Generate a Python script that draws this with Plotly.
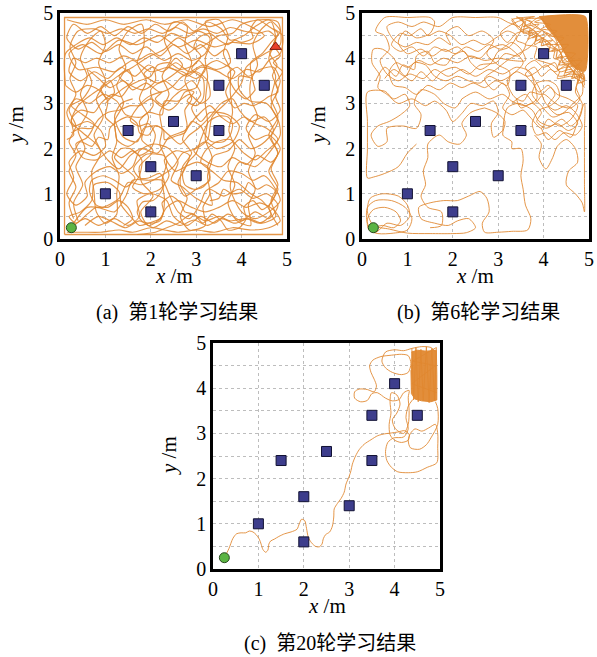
import plotly.graph_objects as go

# ---------------- data ----------------
OBST_X = [1.0, 2.0, 2.0, 1.5, 2.5, 3.0, 3.5, 3.5, 4.0, 4.5]
OBST_Y = [1.0, 0.6, 1.6, 2.4, 2.6, 1.4, 2.4, 3.4, 4.1, 3.4]
START = (0.25, 0.25)
GOAL = (4.75, 4.25)
TICKS = [0, 1, 2, 3, 4, 5]
CAPTIONS = ["(a)\u2002第1轮学习结果", "(b)\u2002第6轮学习结果", "(c)\u2002第20轮学习结果"]

# ----- panel (a): episode 1, trajectory covers whole field -----
A_WALL = [(0.1, 0.1), (4.9, 0.1), (4.9, 4.9), (0.1, 4.9), (0.1, 0.1)]
A1 = [(0.25,0.25),(0.55,0.45),(0.85,0.3),(1.2,0.45),(1.5,0.3),(1.75,0.5),(1.7,0.85),(2.0,1.0),(2.35,0.85),(2.5,0.5),(2.8,0.3),(3.1,0.5),(3.4,0.35),(3.7,0.55),(4.0,0.4),(4.3,0.6),(4.6,0.45),(4.8,0.75),(4.55,1.0),(4.25,0.9),(3.95,1.1),(3.6,0.95),(3.3,1.1),(3.35,0.75),(3.0,0.9),(2.7,1.15),(2.45,1.3),(2.6,1.7),(2.4,2.0),(2.05,2.1),(1.75,1.95),(1.6,1.6),(1.35,1.45),(1.1,1.6),(0.8,1.5),(0.55,1.25),(0.6,0.95),(0.35,0.75),(0.15,1.0),(0.3,1.35),(0.2,1.7),(0.45,1.95),(0.75,1.85),(1.0,2.05),(0.9,2.4),(0.6,2.6),(0.3,2.5),(0.15,2.8),(0.35,3.1),(0.65,3.0),(0.95,3.2),(1.25,3.05),(1.45,2.75),(1.8,2.7),(2.05,2.95),(2.0,3.3),(2.3,3.5),(2.6,3.3),(2.9,3.5),(3.1,3.2),(2.9,2.9),(3.1,2.6),(3.3,2.8),(3.7,2.75),(3.95,2.5),(3.8,2.15),(3.45,2.0),(3.2,2.15),(2.95,1.95),(3.25,1.7),(3.55,1.6),(3.8,1.8),(4.1,1.65),(4.35,1.85),(4.65,1.7),(4.85,2.0),(4.6,2.3),(4.3,2.2),(4.1,2.45),(4.3,2.75),(4.6,2.6),(4.85,2.85),(4.75,3.15),(4.85,3.5),(4.7,3.8),(4.4,3.75),(4.15,3.6),(3.9,3.8),(3.7,3.65),(3.85,3.3),(4.1,3.1),(4.3,3.3)]
A2 = [(4.3,3.3),(4.2,3.9),(4.45,4.1),(4.65,4.35),(4.85,4.6),(4.6,4.85),(4.3,4.7),(4.05,4.5),(3.75,4.4),(3.55,4.65),(3.25,4.8),(2.95,4.6),(2.7,4.8),(2.4,4.6),(2.1,4.75),(1.8,4.55),(1.5,4.7),(1.2,4.5),(0.9,4.7),(0.6,4.55),(0.3,4.75),(0.15,4.45),(0.4,4.2),(0.7,4.35),(1.0,4.15),(1.3,4.3),(1.6,4.1),(1.9,4.25),(2.2,4.05),(2.5,4.3),(2.8,4.1),(3.1,4.3),(3.4,4.05),(3.65,4.2),(3.75,3.9),(3.45,3.75),(3.15,3.85),(2.85,3.7),(2.55,3.9),(2.25,3.7),(1.95,3.85),(1.65,3.6),(1.35,3.8),(1.05,3.55),(0.75,3.7),(0.45,3.5),(0.2,3.7),(0.3,4.0),(0.55,3.9),(0.8,4.0),(1.1,3.9),(1.4,4.05),(1.7,3.95),(2.0,4.1),(2.3,3.95),(2.6,4.1),(2.9,3.95),(3.2,4.1),(3.3,4.45),(3.05,4.6),(2.75,4.45),(2.45,4.55),(2.15,4.35),(1.85,4.45),(1.55,4.3),(1.25,4.45),(0.95,4.3),(0.65,4.45),(0.35,4.3),(0.12,4.1),(0.12,3.4)]
A3 = [(0.12,3.4),(0.35,3.25),(0.6,3.4),(0.85,3.3),(1.05,3.05),(1.0,2.7),(1.2,2.5),(1.25,2.2),(1.5,2.05),(1.8,2.3),(1.75,2.6),(1.95,2.8),(2.25,2.75),(2.3,3.05),(2.6,3.05),(2.85,3.2),(3.1,3.0),(3.3,3.15),(3.25,3.5),(3.0,3.7),(2.7,3.6),(2.45,3.35),(2.2,3.25),(1.9,3.45),(1.6,3.3),(1.4,3.5),(1.1,3.35),(0.85,3.55),(0.6,3.75),(0.7,3.45),(0.5,3.1),(0.25,2.95),(0.5,2.75),(0.75,2.55),(0.6,2.25),(0.35,2.1),(0.5,1.8),(0.8,1.75),(1.1,1.95),(1.35,1.8),(1.6,1.95),(1.8,1.75),(1.75,1.4),(1.6,1.15),(1.85,1.0),(2.2,1.1),(2.4,1.4),(2.3,1.75),(2.55,1.95),(2.85,1.85),(2.75,1.55),(2.6,1.25),(2.75,0.95),(3.0,1.1),(3.3,1.3),(3.25,1.6),(3.4,1.85),(3.7,1.95),(3.95,2.2),(4.2,2.0),(4.45,2.1),(4.7,2.4),(4.5,2.7),(4.2,2.6),(3.95,2.85),(3.8,3.1),(3.55,3.0),(3.3,2.7),(3.05,2.45),(2.85,2.3),(2.65,2.1),(2.4,2.3),(2.15,2.5),(1.85,2.45),(1.7,2.15),(1.4,2.25),(1.2,2.7),(1.35,3.0),(1.6,3.1)]
A4 = [(0.15,0.15),(0.5,0.15),(0.9,0.15),(1.3,0.2),(1.6,0.15),(2.0,0.25),(2.3,0.2),(2.6,0.15),(3.0,0.2),(3.4,0.15),(3.8,0.25),(4.2,0.2),(4.6,0.25),(4.85,0.4),(4.7,0.65),(4.4,0.8),(4.1,0.7),(3.8,0.85),(3.5,0.7),(3.2,0.6),(2.9,0.7),(2.6,0.85),(2.35,0.7),(2.2,0.45),(1.95,0.35),(1.75,0.3),(1.55,0.5),(1.35,0.75),(1.3,1.05),(1.05,1.25),(0.75,1.2),(0.7,0.85),(0.45,0.6),(0.2,0.5),(0.35,0.35),(0.6,0.55),(0.8,0.7),(1.2,0.6),(1.45,0.95),(1.6,1.3),(1.95,1.3),(2.25,1.3),(2.4,1.0),(2.6,0.6),(2.85,0.45),(3.1,0.8),(3.2,1.05),(3.5,1.25),(3.7,1.5),(4.0,1.45),(4.25,1.3),(4.5,1.4),(4.75,1.1),(4.85,0.85),(4.6,0.6),(4.3,0.45),(4.0,0.6),(3.75,1.15),(3.95,1.7),(4.3,1.6),(4.6,1.9),(4.85,2.3),(4.8,2.65),(4.55,3.0),(4.2,3.05),(3.95,3.3),(3.95,3.6),(4.25,3.55)]
A5 = [(0.4,0.4),(0.3,0.8),(0.5,1.2),(0.35,1.6),(0.55,2.0),(0.4,2.4),(0.6,2.8),(0.45,3.2),(0.6,3.6),(0.45,4.0),(0.65,4.4),(0.9,4.6),(1.0,4.3),(0.85,3.9),(1.0,3.5),(0.8,3.1),(0.95,2.7),(0.75,2.3),(0.9,1.9),(0.7,1.5),(0.75,1.05),(0.8,0.6),(1.0,0.35),(1.25,0.55),(1.25,1.0),(1.3,1.4),(1.15,1.8),(1.25,2.15),(1.2,2.6),(1.4,3.0),(1.25,3.4),(1.45,3.8),(1.3,4.2),(1.5,4.6),(1.8,4.75),(1.85,4.3),(1.7,3.9),(1.9,3.5),(1.75,3.1),(1.95,2.7),(1.8,2.2),(2.05,1.95),(1.75,1.6),(1.8,1.25),(2.05,0.95),(1.78,0.6),(1.95,0.3),(2.25,0.5),(2.3,0.9),(2.25,1.3),(2.35,1.7),(2.2,2.1),(2.25,2.4),(2.2,2.8),(2.4,3.2),(2.25,3.6),(2.45,4.0),(2.3,4.4),(2.5,4.8),(2.8,4.7),(2.75,4.3),(2.9,3.9),(2.75,3.5),(2.9,3.1),(2.75,2.85),(2.8,2.5),(2.7,2.2),(2.9,1.9),(2.7,1.6),(2.65,1.2),(2.8,0.9),(2.65,0.5),(2.85,0.2),(3.2,0.3),(3.15,0.7),(3.3,1.0),(3.25,1.4),(3.35,1.8),(3.2,2.2),(3.25,2.6),(3.2,3.0),(3.25,3.6),(3.2,4.0),(3.35,4.4),(3.2,4.8),(3.5,4.85),(3.7,4.5),(3.6,4.1),(3.75,3.75),(3.75,3.25),(3.8,2.8),(3.72,2.4),(3.85,2.0),(3.7,1.6),(3.85,1.2),(3.7,0.8),(3.9,0.4),(4.2,0.3),(4.15,0.75),(4.3,1.1),(4.15,1.5),(4.3,1.9),(4.15,2.3),(4.35,2.7),(4.2,3.1),(4.2,3.5),(4.35,3.85),(4.25,4.3),(4.4,4.6),(4.65,4.8),(4.75,4.4),(4.6,4.0),(4.75,3.6),(4.65,3.1),(4.8,2.7),(4.6,2.3),(4.8,1.9),(4.6,1.5),(4.8,1.1),(4.6,0.7),(4.8,0.3)]
A6 = [(0.15,4.85),(0.6,4.75),(1.0,4.85),(1.4,4.75),(1.9,4.85),(2.3,4.75),(2.8,4.85),(3.3,4.7),(3.8,4.85),(4.2,4.7),(4.5,4.5),(4.2,4.32),(3.8,4.35),(3.4,4.25),(3.0,4.4),(2.6,4.25),(2.2,4.5),(1.7,4.3),(1.3,4.4),(0.9,4.1),(0.5,4.3),(0.2,4.1),(0.4,3.75),(0.8,3.8),(1.2,3.7),(1.6,3.95),(2.0,3.7),(2.4,3.8),(2.8,3.6),(3.1,3.8),(3.45,3.72),(3.8,3.55),(4.1,3.75),(4.4,3.7),(4.6,3.95),(4.85,4.1),(4.9,4.5),(4.7,4.65)]
A7 = [(0.2,0.2),(0.6,0.7),(0.95,0.7),(1.3,0.9),(1.5,1.25),(1.8,1.2),(2.2,1.38),(2.5,1.6),(2.7,1.9),(3.0,2.0),(3.25,2.2),(3.35,2.7),(3.7,3.05),(4.0,3.45),(4.1,3.8),(4.35,4.0),(4.6,4.15),(4.85,4.3),(4.8,4.8),(4.4,4.85),(4.0,4.75),(3.8,4.55),(3.5,4.5),(3.0,4.2),(2.6,4.45),(2.3,4.2),(1.9,4.0),(1.6,3.8),(1.3,3.62),(1.0,3.4),(0.7,3.2),(0.4,2.95),(0.25,2.6),(0.5,2.35),(0.8,2.1),(1.05,1.75),(1.3,1.55),(1.55,1.85),(1.8,2.0),(2.15,1.9),(2.4,2.25),(2.75,2.4),(3.0,2.7),(3.3,2.95),(3.55,2.7),(3.8,2.55),(4.05,2.7),(4.3,2.55),(4.55,2.45),(4.8,2.2),(4.55,1.95),(4.3,1.75),(4.05,1.9),(3.75,2.2),(3.45,2.15),(3.2,1.95),(3.1,1.7),(3.35,1.5),(3.6,1.3),(3.9,1.25),(4.2,1.0),(4.45,0.85),(4.65,0.55),(4.4,0.35),(4.1,0.45),(3.75,0.4),(3.5,0.5),(3.2,0.4),(2.9,0.55),(2.6,0.35),(2.35,0.25),(2.1,0.15),(1.7,0.1)]
A8 = [(0.3,1.9),(0.45,2.15),(0.7,2.05),(0.85,2.25),(1.05,2.2),(1.1,2.45),(1.3,2.62),(1.5,2.7),(1.7,2.55),(1.75,2.35),(1.95,2.3),(2.1,2.5),(2.28,2.42),(2.3,2.2),(2.55,2.28),(2.75,2.35),(2.9,2.6),(3.1,2.5),(3.2,2.3),(3.35,2.15),(3.6,2.15),(3.75,2.3),(3.8,2.55),(3.7,2.7),(3.5,2.72),(3.28,2.6),(3.1,2.2),(3.0,1.9),(2.82,1.7),(2.7,1.45),(2.75,1.2),(2.95,1.1),(3.15,1.15),(3.3,1.35),(3.25,1.6),(3.02,1.7),(2.8,1.62),(2.55,1.5),(2.4,1.65),(2.28,1.85),(2.1,1.88),(1.92,1.88),(1.75,1.75),(1.62,1.55),(1.75,1.35),(1.95,1.35),(2.2,1.45),(2.3,1.25),(2.2,1.0),(2.05,0.85),(1.82,0.82),(1.7,0.6),(1.8,0.4),(2.0,0.35),(2.2,0.4),(2.28,0.62),(2.25,0.8),(2.45,0.95),(2.65,0.8),(2.75,0.6),(2.95,0.55),(3.15,0.35),(3.35,0.55),(3.55,0.4),(3.7,0.2),(3.95,0.25),(4.1,0.45),(4.05,0.7),(4.25,0.85),(4.45,0.65),(4.65,0.8),(4.75,1.05),(4.55,1.2),(4.35,1.1),(4.15,1.25),(4.05,1.05),(3.8,1.0),(3.6,1.1),(3.5,0.9),(3.3,0.85)]
A9 = [(0.15,2.2),(0.3,2.3),(0.25,2.65),(0.45,2.85),(0.75,2.8),(0.9,3.0),(1.15,3.2),(1.35,3.15),(1.55,3.4),(1.75,3.5),(2.0,3.6),(2.15,3.85),(2.4,3.9),(2.65,3.75),(2.95,3.85),(3.1,4.05),(2.95,4.25),(3.05,4.45),(3.3,4.55),(3.5,4.4),(3.7,4.3),(3.85,4.4),(4.0,4.35),(4.25,4.45),(4.2,4.65),(4.35,4.85),(4.6,4.7),(4.8,4.55),(4.7,4.3),(4.85,4.05),(4.7,3.9),(4.9,3.7),(4.75,3.45),(4.8,3.25),(4.6,3.15),(4.45,3.05),(4.25,2.95),(4.05,3.0),(3.85,2.9),(3.65,3.25),(3.75,3.5),(3.85,3.7),(3.65,3.85),(3.45,3.95),(3.25,3.85),(3.1,3.6),(3.0,3.35),(2.75,3.25),(2.6,3.0),(2.4,2.85),(2.2,2.95),(2.0,3.1),(1.75,2.95),(1.55,2.95),(1.3,2.85),(1.05,2.8),(0.85,2.65),(0.7,2.45),(0.45,2.45),(0.25,2.35)]
A10 = [(0.3,0.45),(0.2,0.8),(0.35,1.15),(0.2,1.5),(0.35,1.85),(0.2,2.15),(0.35,2.5),(0.2,2.85),(0.35,3.2),(0.22,3.55),(0.35,3.9),(0.22,4.25),(0.4,4.6),(0.75,4.65),(1.05,4.55),(1.35,4.65),(1.65,4.55),(1.95,4.65),(2.25,4.55),(2.55,4.68),(2.85,4.55),(3.15,4.65),(3.45,4.55),(3.75,4.68),(4.05,4.6),(4.35,4.55),(4.6,4.6),(4.75,4.45),(4.62,4.1),(4.78,3.85),(4.68,3.62),(4.8,3.3),(4.65,2.95),(4.8,2.6),(4.65,2.25),(4.8,1.9),(4.65,1.55),(4.8,1.2),(4.65,0.85),(4.75,0.5),(4.45,0.35),(4.15,0.45),(3.85,0.35),(3.55,0.45),(3.25,0.3),(2.95,0.42),(2.65,0.3),(2.35,0.4),(2.05,0.25),(1.75,0.4),(1.45,0.25),(1.15,0.38),(0.85,0.5),(0.55,0.3)]
A11 = [(1.0,3.0),(1.2,3.25),(1.1,3.5),(0.9,3.35),(1.05,3.1),(1.35,3.3),(1.6,3.5),(1.5,3.75),(1.3,3.6),(1.55,3.4),(1.85,3.3),(2.1,3.5),(2.05,3.8),(1.85,3.65),(2.15,3.45),(2.45,3.6),(2.7,3.85),(2.55,4.0),(2.4,3.8),(2.7,3.7),(3.0,3.55),(3.2,3.75),(3.05,3.95),(2.9,3.75),(3.15,3.55),(3.15,3.1),(3.0,2.95),(2.8,3.05),(2.95,3.25),(2.7,3.3),(2.5,3.15),(2.3,2.95),(2.1,3.1),(2.25,3.25),(1.95,3.15),(1.7,2.9),(1.55,2.62),(1.75,2.5),(1.95,2.55),(2.1,2.3),(2.0,2.0),(1.75,1.85),(1.55,2.0),(1.35,2.0),(1.2,1.8),(1.45,1.55),(1.65,1.35),(1.45,1.15),(1.2,1.3),(0.95,1.4),(0.7,1.3),(0.65,1.05),(0.8,0.75),(1.05,0.7),(1.3,0.85),(1.5,0.7),(1.6,0.45),(1.4,0.3)]

# ----- panel (b): episode 6 -----
B1 = [(0.25,0.25),(0.45,0.3),(0.7,0.25),(0.85,0.4),(0.75,0.6),(0.5,0.7),(0.25,0.65),(0.12,0.45),(0.15,0.2),(0.35,0.12),(0.7,0.13),(1.0,0.2),(1.1,0.45),(0.95,0.7),(0.65,0.85),(0.3,0.85),(0.12,0.7),(0.12,0.35),(0.3,0.15),(0.55,0.35),(0.85,0.3),(1.05,0.5),(1.0,0.75),(0.8,0.95),(0.45,1.0),(0.18,0.9),(0.12,0.6),(0.25,0.3),(0.6,0.22),(1.0,0.13),(1.5,0.12),(2.0,0.12),(2.3,0.14),(2.5,0.25),(2.35,0.45),(2.1,0.4),(1.9,0.3),(1.6,0.35),(1.3,0.45),(1.25,0.7),(1.5,0.8),(1.8,0.85),(2.1,0.85),(2.35,0.95),(2.6,1.05),(2.75,0.9),(2.8,0.6),(2.65,0.35),(2.7,0.15),(3.0,0.15),(3.3,0.17),(3.65,0.2),(3.72,0.45),(3.6,0.75),(3.55,1.1),(3.5,1.4),(3.55,1.75),(3.5,2.0),(3.3,2.0),(3.3,2.15),(3.1,2.3),(3.15,2.6),(2.95,2.8),(2.7,2.9)]
B2 = [(2.7,2.9),(2.4,2.8),(2.2,2.55),(2.3,2.3),(2.15,2.1),(1.9,2.15),(1.7,2.3),(1.45,2.1),(1.45,1.8),(1.35,1.5),(1.4,1.2),(1.3,0.95),(1.45,0.7),(1.75,0.6),(1.75,0.3),(1.5,0.25)]
B3 = [(1.2,2.1),(1.0,1.9),(0.8,1.6),(0.5,1.45),(0.25,1.37),(0.12,1.35),(0.12,2.0),(0.12,2.6),(0.12,3.25),(0.5,3.27),(0.7,3.1),(0.95,3.2),(1.05,2.95),(0.85,2.75),(0.6,2.6),(0.35,2.5),(0.2,2.3),(0.35,2.05),(0.55,2.15),(0.55,2.45),(0.9,2.5),(1.2,2.45),(1.3,2.75),(1.15,3.0),(1.3,3.3),(1.6,3.2),(1.8,3.0),(2.05,2.9),(2.2,3.1)]
B4 = [(3.8,2.3),(3.95,2.1),(3.9,1.8),(4.05,1.55),(4.2,1.8),(4.3,2.05),(4.5,2.2),(4.7,2.0),(4.75,1.7),(4.55,1.5),(4.5,1.2),(4.7,1.0),(4.85,0.8),(4.9,0.6),(4.9,1.2),(4.9,1.8),(4.9,2.4),(4.9,3.0),(4.75,2.6),(4.6,2.25),(4.35,2.4),(4.1,2.2),(3.95,2.45)]
B5 = [(2.2,3.1),(2.5,3.25),(2.8,3.1),(3.1,3.2),(3.3,3.05),(3.6,2.95),(3.85,3.1),(3.8,3.4),(3.7,3.7),(3.4,3.8),(3.1,3.65),(2.8,3.75),(2.5,3.6),(2.2,3.75),(1.9,3.6),(1.6,3.75),(1.35,3.55),(1.05,3.65),(0.8,3.5),(0.55,3.65),(0.4,3.95),(0.6,4.2),(0.5,4.5),(0.3,4.6),(0.5,4.9),(1.0,4.9),(1.5,4.9),(1.6,4.8),(1.5,4.55),(1.2,4.45),(0.95,4.6),(0.8,4.35),(1.0,4.1),(1.3,4.2),(1.55,4.05),(1.8,4.2),(2.05,4.1),(2.3,4.25),(2.55,4.15),(2.8,4.3),(3.05,4.2),(3.3,4.35),(3.5,4.2),(3.6,3.95),(3.3,3.95),(3.0,4.0),(2.7,3.95),(2.4,4.05),(2.1,3.9),(1.8,4.0),(1.5,3.85),(1.25,3.95),(1.0,3.8),(0.75,3.9),(0.6,3.7),(0.7,3.4),(0.95,3.35),(1.2,3.2),(1.45,3.4),(1.7,3.3),(1.95,3.45),(2.2,3.35),(2.45,3.45),(2.7,3.35),(2.95,3.5),(3.2,3.4),(3.25,3.7),(3.0,3.85),(2.75,4.1),(2.9,4.4),(2.65,4.6),(2.35,4.5),(2.1,4.7),(1.85,4.55),(1.95,4.3),(1.7,4.45),(1.45,4.3),(1.2,4.35),(0.95,4.25),(0.7,4.4),(0.55,4.7),(0.8,4.8),(1.1,4.7),(1.35,4.8),(1.7,4.7),(2.0,4.9),(2.5,4.9),(3.0,4.9),(3.2,4.8),(3.5,4.65),(3.4,4.4),(3.6,4.3),(3.45,4.05),(3.15,4.1),(2.95,3.9),(2.6,3.85),(2.35,3.65),(2.05,3.8),(1.75,3.7),(1.55,3.5),(1.3,3.7),(1.1,3.5),(0.85,3.7),(0.7,4.0),(0.45,4.2),(0.25,4.2),(0.22,3.9),(0.4,3.6),(0.35,3.35),(0.55,3.2),(0.8,3.0),(1.1,3.1),(1.4,2.95),(1.6,3.05),(1.85,2.85),(2.0,2.6),(2.2,2.78),(2.4,3.0),(2.65,2.95),(2.9,3.05),(3.0,2.8),(2.85,2.55),(2.9,2.25),(3.1,2.4)]
B6 = [(3.1,2.4),(3.2,2.9),(3.45,3.0),(3.75,2.85),(3.9,2.6),(4.15,2.5),(4.4,2.65),(4.6,2.5),(4.8,2.7),(4.85,3.0),(4.7,3.25),(4.75,3.55),(4.6,3.75),(4.35,3.7),(4.25,3.9),(4.0,3.8),(3.8,3.95),(3.6,3.8),(3.75,3.6),(3.9,3.35),(4.05,3.0),(4.25,2.85),(4.5,2.95),(4.7,2.8),(4.85,2.5),(4.7,2.3),(4.45,2.35),(4.25,2.2),(4.05,2.35),(3.85,2.3),(3.75,2.55),(3.9,2.85),(4.15,2.95),(4.35,3.15),(4.28,3.4),(4.1,3.5),(3.85,3.45),(3.75,3.2),(3.95,2.95),(4.2,2.7),(4.45,2.8),(4.65,3.0),(4.85,3.2),(4.85,3.5),(4.75,3.8),(4.5,3.85),(4.25,3.7),(4.05,3.85),(3.85,3.7),(3.65,3.6),(3.4,3.7),(3.2,3.5),(3.35,3.15),(3.55,3.05),(3.7,3.25),(3.95,3.2),(4.15,3.35),(4.3,3.2),(4.55,3.1),(4.75,2.95),(4.6,2.65),(4.35,2.5),(4.1,2.65),(3.95,2.45),(3.7,2.7),(3.55,2.85),(3.3,2.75),(3.1,2.9),(3.25,3.2),(3.1,3.45),(2.9,3.3),(2.7,3.55),(2.95,3.75),(3.2,3.95),(3.45,4.1),(3.7,4.25),(3.85,4.45),(3.65,4.6),(3.4,4.55),(3.2,4.35),(3.05,4.55),(3.3,4.75),(3.6,4.85),(3.85,4.7),(4.1,4.5),(4.3,4.3),(4.5,4.1),(4.7,3.9),(4.85,3.7),(4.9,3.4)]
B7 = [(0.3,3.5),(0.5,3.8),(0.75,3.6),(0.9,3.85),(1.15,3.75),(1.2,4.05),(1.45,4.15),(1.6,3.9),(1.85,3.85),(2.0,4.05),(2.25,4.15),(2.4,3.9),(2.6,3.75),(2.85,3.9),(3.0,4.15),(3.25,4.25),(3.4,4.5),(3.2,4.6),(2.95,4.45),(2.7,4.3),(2.45,4.4),(2.2,4.3),(1.95,4.5),(1.7,4.6),(1.45,4.5),(1.3,4.65),(1.05,4.5),(0.85,4.55),(0.65,4.3),(0.85,4.15),(1.1,4.25),(1.35,4.05),(1.6,4.25),(1.85,4.15),(2.1,4.25),(2.35,4.05),(2.6,4.0),(2.8,4.2),(3.1,4.3),(3.35,4.15),(3.55,3.9),(3.28,3.62),(3.05,3.5),(2.8,3.6),(2.6,3.45),(2.35,3.5),(2.1,3.6),(1.85,3.5),(1.6,3.6),(1.4,3.85),(1.15,3.9),(0.95,3.6),(0.7,3.75),(0.5,3.55)]
B8 = [(3.3,3.0),(3.6,3.2),(3.8,3.0),(4.0,3.2),(4.2,3.05),(4.35,2.95),(4.6,2.9),(4.8,3.1),(4.72,3.35),(4.8,3.6),(4.6,3.65),(4.35,3.6),(4.15,3.75),(3.95,3.6),(3.8,3.8),(3.6,3.65),(3.76,3.45),(3.9,3.25),(4.1,3.4),(4.25,3.2),(4.1,2.95),(4.3,2.75),(4.55,2.8),(4.75,2.55),(4.55,2.4),(4.3,2.55),(4.05,2.45),(3.85,2.6),(3.95,2.8),(3.75,3.0),(3.5,2.9),(3.4,3.1)]
B_CORE = [(3.9,4.92),(4.92,4.92),(4.92,3.72),(4.72,3.76),(4.58,3.9),(4.48,4.1),(4.38,4.3),(4.22,4.5),(4.05,4.7)]
B_FUZZ = [(3.45,4.9),(3.75,4.8),(3.55,4.7),(3.9,4.75),(3.65,4.55),(3.95,4.6),(3.75,4.45),(4.1,4.55),(3.9,4.35),(4.2,4.4),(4.05,4.3),(4.3,4.3),(4.18,4.15),(4.45,4.2),(4.3,4.0),(4.55,4.05),(4.4,3.9),(4.65,3.95),(4.5,3.8),(4.8,3.85),(4.65,3.7),(4.9,3.7),(4.75,3.6),(4.9,3.55),(4.7,3.8),(4.85,3.95),(4.55,3.95),(4.7,4.1),(4.4,4.15),(4.55,4.3),(4.25,4.3),(4.45,4.45),(4.1,4.5),(4.3,4.6),(3.95,4.65),(4.15,4.75),(3.8,4.8),(4.0,4.88),(3.6,4.88),(3.8,4.92),(3.3,4.85),(3.5,4.6),(3.7,4.5),(3.6,4.3),(3.85,4.25),(3.8,4.0),(4.2,3.85),(4.35,3.7),(4.3,3.55),(4.6,3.6),(4.8,3.5),(4.9,3.35)]
B_FUZZ2 = [(3.3,4.88),(3.45,4.7),(3.6,4.82),(3.55,4.55),(3.75,4.62),(3.65,4.42),(3.85,4.5),(3.8,4.3),(4.0,4.4),(4.1,4.25),(4.25,4.2),(4.22,4.0),(4.35,3.95),(4.3,3.75),(4.5,3.8),(4.45,3.6),(4.65,3.7),(4.7,3.55),(4.85,3.62),(4.9,3.5),(4.6,3.85),(4.4,4.05),(4.25,4.45),(4.0,4.6),(3.7,4.75),(3.9,4.9),(4.2,4.6),(4.38,4.3),(4.5,4.05),(4.75,3.75)]
B_FUZZ3 = [(3.4,4.92),(3.55,4.8),(3.5,4.62),(3.7,4.68),(3.68,4.5),(3.85,4.55),(3.82,4.38),(4.0,4.45),(3.95,4.28),(4.15,4.32),(4.12,4.15),(4.3,4.2),(4.28,4.0),(4.42,4.05),(4.35,3.85),(4.55,3.88),(4.48,3.68),(4.68,3.72),(4.62,3.55),(4.8,3.62),(4.75,3.45),(4.9,3.5),(4.88,3.65),(4.7,3.65),(4.58,3.8),(4.42,3.92),(4.38,4.12),(4.22,4.25),(4.08,4.38),(3.92,4.48),(3.78,4.62),(3.62,4.72),(3.52,4.88)]

# ----- panel (c): episode 20 -----
C1 = [(0.25,0.25),(0.35,0.45),(0.44,0.68),(0.52,0.78),(0.62,0.8),(0.72,0.8),(0.8,0.84),(0.88,0.82),(0.95,0.76),(1.02,0.66),(1.06,0.55),(1.1,0.43),(1.16,0.37),(1.21,0.42),(1.23,0.55),(1.27,0.62),(1.35,0.66),(1.45,0.72),(1.58,0.78),(1.72,0.82),(1.85,0.88),(1.9,1.0),(1.95,1.1),(2.02,1.07),(2.06,0.9),(2.1,0.7),(2.17,0.58),(2.26,0.5),(2.34,0.49),(2.4,0.55),(2.43,0.67),(2.48,0.76),(2.57,0.82),(2.63,0.95),(2.66,1.15),(2.67,1.33),(2.74,1.45),(2.82,1.56),(2.89,1.7),(2.93,1.88),(3.0,2.05),(3.04,2.18),(3.07,2.32),(3.14,2.5),(3.22,2.64),(3.33,2.76),(3.48,2.86),(3.63,2.95),(3.78,2.99),(3.93,3.01),(4.07,3.03),(4.22,3.06),(4.32,2.98),(4.3,2.85),(4.15,2.8),(4.0,2.85),(3.9,2.97),(3.88,3.2),(3.92,3.45),(3.9,3.7),(3.93,3.9),(4.05,3.85),(4.12,3.65),(4.05,3.45),(3.95,3.3),(4.02,3.1),(4.2,3.0),(4.3,3.2),(4.32,3.5),(4.3,3.8),(4.32,3.95),(4.2,3.9),(4.1,3.75),(3.95,3.72),(3.8,3.78),(3.62,3.9),(3.5,3.88),(3.4,3.73),(3.25,3.7),(3.12,3.78),(3.12,3.92),(3.22,3.98),(3.4,3.97),(3.55,3.92),(3.6,4.05),(3.55,4.2),(3.48,4.35),(3.45,4.5),(3.52,4.62),(3.7,4.7),(3.93,4.73),(4.15,4.75),(4.3,4.72),(4.36,4.55),(4.3,4.35),(4.15,4.3),(3.95,4.35),(3.8,4.45),(3.72,4.6),(3.8,4.8),(4.0,4.85),(4.2,4.83),(4.38,4.88),(4.6,4.92),(4.8,4.9),(4.9,4.8)]
C2 = [(4.4,3.75),(4.3,3.6),(4.25,3.35),(4.3,3.1),(4.2,2.92),(3.98,2.9),(3.85,2.8),(3.8,2.6),(3.83,2.4),(3.93,2.25),(4.07,2.15),(4.3,2.13),(4.5,2.15),(4.72,2.25),(4.93,2.35),(4.95,2.7),(4.95,3.0),(4.9,3.2),(4.75,3.12),(4.6,3.05),(4.45,3.1),(4.35,3.0),(4.3,2.85),(4.35,2.68),(4.55,2.65),(4.7,2.75),(4.8,2.9),(4.95,3.2),(4.95,3.55),(4.9,3.7)]
C_CORE = [(4.37,4.8),(4.5,4.84),(4.7,4.82),(4.92,4.84),(4.93,4.3),(4.93,3.74),(4.8,3.7),(4.6,3.72),(4.45,3.76),(4.37,3.88),(4.36,4.4)]
C_FUZZ = [(4.38,4.88),(4.42,3.74),(4.47,4.9),(4.52,3.7),(4.58,4.86),(4.63,3.72),(4.7,4.92),(4.76,3.68),(4.82,4.88),(4.88,3.72),(4.92,4.9),(4.4,4.6),(4.9,4.5),(4.38,4.1),(4.93,3.9)]

# ---------------- figure ----------------
W, H = 597, 657
ORANGE = "rgba(224,136,48,0.88)"
FONT = "Liberation Serif, Noto Sans CJK SC, serif"

# frames in pixels: (left, right, top, bottom)
FRAMES = [(60, 287, 13, 239), (362, 589, 13, 239), (213, 440, 343, 569)]

fig = go.Figure()

def add_path(pts, k, shape="spline", width=1.0, color=ORANGE, fill=None, smoothing=0.8):
    fig.add_trace(go.Scatter(
        x=[p[0] for p in pts], y=[p[1] for p in pts], mode="lines",
        line=dict(color=color, width=width, shape=shape, smoothing=smoothing if shape == "spline" else None),
        fill=fill, fillcolor=color if fill else None,
        xaxis="x" if k == 0 else f"x{k+1}", yaxis="y" if k == 0 else f"y{k+1}",
        hoverinfo="skip", showlegend=False))

add_path(A_WALL, 0, shape="linear", width=1.3)
for seg in [A1, A2, A3, A4, A5, A6, A7, A8, A9, A10, A11]:
    add_path(seg, 0, width=1.15, smoothing=0.75)

for seg in [B1, B2, B3, B4, B5, B6, B7, B8]:
    add_path(seg, 1)
add_path(B_CORE, 1, shape="spline", fill="toself", color="rgba(224,136,48,0.95)", smoothing=0.5)
add_path(B_FUZZ, 1, smoothing=0.6)
add_path(B_FUZZ2, 1, smoothing=0.6)
add_path(B_FUZZ3, 1, smoothing=0.6, width=1.2)

add_path(C1, 2)
add_path(C2, 2)
add_path(C_CORE, 2, shape="linear", fill="toself", color="rgba(224,136,48,0.95)")
add_path(C_FUZZ, 2, shape="linear")

for k in range(3):
    xa = "x" if k == 0 else f"x{k+1}"
    ya = "y" if k == 0 else f"y{k+1}"
    fig.add_trace(go.Scatter(x=OBST_X, y=OBST_Y, mode="markers", xaxis=xa, yaxis=ya,
                             marker=dict(symbol="square", size=10, color="#3d3d8c",
                                         line=dict(color="#111133", width=1)),
                             hoverinfo="skip", showlegend=False))
    fig.add_trace(go.Scatter(x=[START[0]], y=[START[1]], mode="markers", xaxis=xa, yaxis=ya,
                             marker=dict(symbol="circle", size=10, color="#5cb443",
                                         line=dict(color="#2a4a20", width=1)),
                             hoverinfo="skip", showlegend=False))
fig.add_trace(go.Scatter(x=[GOAL[0]], y=[GOAL[1]], mode="markers", xaxis="x", yaxis="y",
                         marker=dict(symbol="triangle-up", size=10, color="#e8402a",
                                     line=dict(color="#7a1a10", width=1)),
                         hoverinfo="skip", showlegend=False))

layout = dict(width=W, height=H, margin=dict(l=0, r=0, t=0, b=0),
              paper_bgcolor="white", plot_bgcolor="white", showlegend=False)

annotations = []
for k, (l, r, t, b) in enumerate(FRAMES):
    sx = "" if k == 0 else str(k + 1)
    common = dict(range=[0, 5], tickvals=TICKS, showline=True, mirror=True, linecolor="black",
                  linewidth=2.5, zeroline=False, ticks="", fixedrange=True, automargin=False,
                  tickfont=dict(family=FONT, size=20, color="black"),
                  showgrid=True, gridcolor="#bdbdbd", gridwidth=1, griddash="dot")
    layout["xaxis" + sx] = dict(common, domain=[l / W, r / W], anchor="y" + sx)
    layout["yaxis" + sx] = dict(common, domain=[1 - b / H, 1 - t / H], anchor="x" + sx,
                                minor=dict(dtick=0.5, tick0=0, showgrid=True, gridcolor="#bdbdbd",
                                           griddash="dot", gridwidth=1))
    cx = (l + r) / 2
    cap_y = 312 if k < 2 else 643
    xt_y = 276 if k < 2 else 606
    annotations.append(dict(text="<i>x</i> /m", x=cx / W, y=1 - xt_y / H, xref="paper", yref="paper",
                            showarrow=False, font=dict(family=FONT, size=21, color="black"),
                            xanchor="center", yanchor="middle"))
    annotations.append(dict(text="<i>y</i> /m", x=(l - 44) / W, y=1 - ((t + b) / 2) / H,
                            xref="paper", yref="paper", showarrow=False, textangle=-90,
                            font=dict(family=FONT, size=21, color="black"),
                            xanchor="center", yanchor="middle"))
    annotations.append(dict(text=CAPTIONS[k], x=(cx + 3) / W, y=1 - cap_y / H, xref="paper", yref="paper",
                            showarrow=False, font=dict(family=FONT, size=20, color="black"),
                            xanchor="center", yanchor="middle"))
layout["annotations"] = annotations
fig.update_layout(**layout)

fig.write_html("out.html", config={"displayModeBar": False},
               post_script="document.body.style.margin='0';document.body.style.overflow='hidden';")
